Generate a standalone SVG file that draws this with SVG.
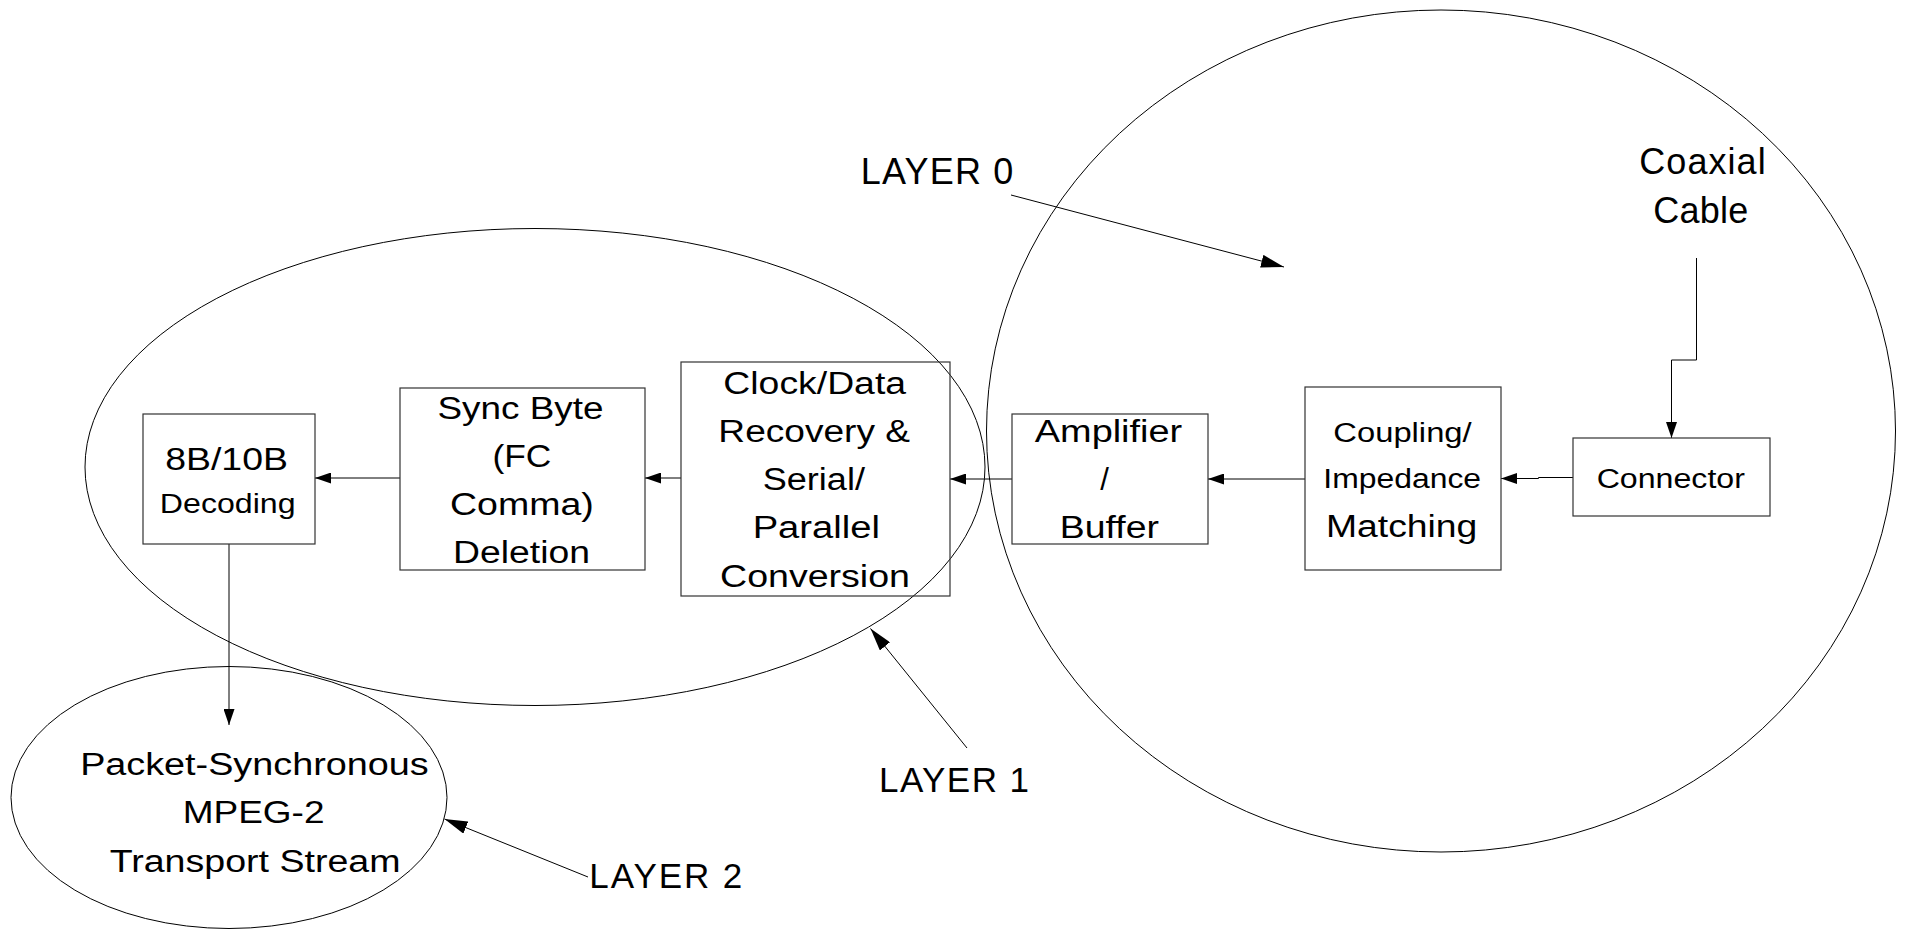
<svg xmlns="http://www.w3.org/2000/svg" width="1906" height="929" viewBox="0 0 1906 929">
  <style>
    .bg { fill: #ffffff; }
    .layer { fill: none; stroke: #000000; stroke-width: 1; }
    .box { fill: none; stroke: #333333; stroke-width: 1.2; }
    .wire { fill: none; stroke: #000000; stroke-width: 1; }
    .t { font-family: "Liberation Sans", Arial, sans-serif; fill: #000000; text-anchor: middle; }
    .big { font-size: 31px; }
    .small { font-size: 27px; }
    .lbl { font-family: "Liberation Sans", Arial, sans-serif; fill: #000000; font-size: 36px; }
  </style>
  <defs>
    <marker id="tip" markerUnits="userSpaceOnUse" markerWidth="16" markerHeight="11" refX="16" refY="5.5" orient="auto">
      <path d="M0,0 L16,5.5 L0,11 Z" fill="#000000"/>
    </marker>
    <marker id="tipBig" markerUnits="userSpaceOnUse" markerWidth="23" markerHeight="13" refX="23" refY="6.5" orient="auto">
      <path d="M0,0 L23,6.5 L0,13 Z" fill="#000000"/>
    </marker>
  </defs>

  <rect class="bg" x="0" y="0" width="1906" height="929"/>

  <!-- layer outlines -->
  <g id="layers">
    <ellipse id="layer1-outline" class="layer" cx="535" cy="467" rx="450" ry="238.5"/>
    <ellipse id="layer0-outline" class="layer" cx="1441" cy="431" rx="454.5" ry="421"/>
    <ellipse id="layer2-outline" class="layer" cx="229" cy="797.5" rx="218" ry="131"/>
  </g>

  <!-- connectors -->
  <g id="connectors">
    <line class="wire" x1="681" y1="478" x2="645" y2="478" marker-end="url(#tip)"/>
    <line class="wire" x1="400" y1="478" x2="315" y2="478" marker-end="url(#tip)"/>
    <line class="wire" x1="1012" y1="479" x2="950" y2="479" marker-end="url(#tip)"/>
    <line class="wire" x1="1305" y1="479" x2="1208" y2="479" marker-end="url(#tip)"/>
    <polyline class="wire" points="1573,477.5 1538.5,477.5 1538.5,478.5 1501,478.5" marker-end="url(#tip)"/>
    <polyline class="wire" points="1696.5,258 1696.5,360 1671.5,360 1671.5,438" marker-end="url(#tip)"/>
    <line class="wire" x1="229" y1="544" x2="229" y2="725" marker-end="url(#tip)"/>
    <line class="wire" x1="1011" y1="195" x2="1284" y2="267" marker-end="url(#tipBig)"/>
    <line class="wire" x1="967" y1="748" x2="870.5" y2="628.5" marker-end="url(#tipBig)"/>
    <line class="wire" x1="588" y1="877" x2="444.5" y2="819" marker-end="url(#tipBig)"/>
  </g>

  <!-- processing blocks -->
  <g id="decoding">
    <rect class="box" x="143" y="414" width="172" height="130"/>
    <text class="t big" x="226.6" y="470" textLength="122.8" lengthAdjust="spacingAndGlyphs">8B/10B</text>
    <text class="t small" x="227.7" y="513.3" textLength="135.7" lengthAdjust="spacingAndGlyphs">Decoding</text>
  </g>

  <g id="sync-deletion">
    <rect class="box" x="400" y="388" width="245" height="182"/>
    <text class="t big" x="520.5" y="419.3" textLength="166" lengthAdjust="spacingAndGlyphs">Sync Byte</text>
    <text class="t big" x="521.9" y="467.3" textLength="58.9" lengthAdjust="spacingAndGlyphs">(FC</text>
    <text class="t big" x="521.9" y="515" textLength="143.8" lengthAdjust="spacingAndGlyphs">Comma)</text>
    <text class="t big" x="521.5" y="563.3" textLength="137" lengthAdjust="spacingAndGlyphs">Deletion</text>
  </g>

  <g id="clock-recovery">
    <rect class="box" x="681" y="362" width="269" height="234"/>
    <text class="t big" x="814.7" y="394.3" textLength="182.7" lengthAdjust="spacingAndGlyphs">Clock/Data</text>
    <text class="t big" x="814.2" y="441.7" textLength="191.7" lengthAdjust="spacingAndGlyphs">Recovery &amp;</text>
    <text class="t big" x="813.8" y="490" textLength="102.3" lengthAdjust="spacingAndGlyphs">Serial/</text>
    <text class="t big" x="816.3" y="538.3" textLength="127.3" lengthAdjust="spacingAndGlyphs">Parallel</text>
    <text class="t big" x="815" y="587.3" textLength="190" lengthAdjust="spacingAndGlyphs">Conversion</text>
  </g>

  <g id="amplifier">
    <rect class="box" x="1012" y="414" width="196" height="130"/>
    <text class="t big" x="1108.5" y="441.7" textLength="147.3" lengthAdjust="spacingAndGlyphs">Amplifier</text>
    <text class="t big" x="1104.6" y="490">/</text>
    <text class="t big" x="1109.4" y="538.3" textLength="99.1" lengthAdjust="spacingAndGlyphs">Buffer</text>
  </g>

  <g id="coupling">
    <rect class="box" x="1305" y="387" width="196" height="183"/>
    <text class="t small" x="1402.5" y="441.7" textLength="138.3" lengthAdjust="spacingAndGlyphs">Coupling/</text>
    <text class="t small" x="1402.2" y="488.3" textLength="157.7" lengthAdjust="spacingAndGlyphs">Impedance</text>
    <text class="t big" x="1401.7" y="536.7" textLength="151.3" lengthAdjust="spacingAndGlyphs">Matching</text>
  </g>

  <g id="connector">
    <rect class="box" x="1573" y="438" width="197" height="78"/>
    <text class="t small" x="1670.8" y="488.3" textLength="148.3" lengthAdjust="spacingAndGlyphs">Connector</text>
  </g>

  <g id="coaxial-cable">
    <text class="t" style="font-size:36px" x="1702.5" y="174" textLength="126.4" lengthAdjust="spacing">Coaxial</text>
    <text class="t" style="font-size:36px" x="1700.8" y="223.3" textLength="95" lengthAdjust="spacing">Cable</text>
  </g>

  <g id="transport-stream">
    <text class="t big" x="254.4" y="775" textLength="348.5" lengthAdjust="spacingAndGlyphs">Packet-Synchronous</text>
    <text class="t big" x="253.6" y="823.3" textLength="141.8" lengthAdjust="spacingAndGlyphs">MPEG-2</text>
    <text class="t big" x="255.1" y="872.3" textLength="290.8" lengthAdjust="spacingAndGlyphs">Transport Stream</text>
  </g>

  <!-- layer labels -->
  <g id="label-layer0">
    <text class="lbl" x="860.7" y="184" textLength="152.7" lengthAdjust="spacing">LAYER 0</text>
  </g>
  <g id="label-layer1">
    <text class="lbl" style="font-size:35px" x="879" y="791.7" textLength="150" lengthAdjust="spacing">LAYER 1</text>
  </g>
  <g id="label-layer2">
    <text class="lbl" style="font-size:35px" x="589.3" y="887.7" textLength="153" lengthAdjust="spacing">LAYER 2</text>
  </g>
</svg>
